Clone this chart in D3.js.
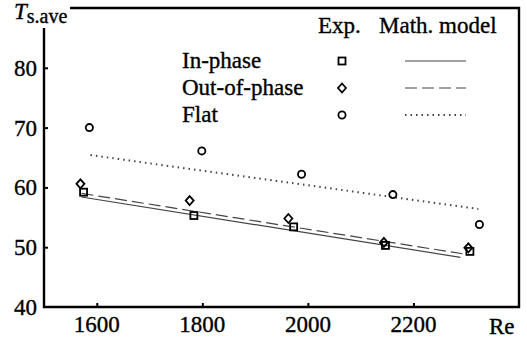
<!DOCTYPE html>
<html>
<head>
<meta charset="utf-8">
<script src="https://cdn.jsdelivr.net/npm/d3@7"></script>
<style>
  body { margin: 0; background: #fff; }
</style>
</head>
<body>
<svg width="527" height="344"></svg>
<script>
// experimental points
let inX = [1575, 1784, 1973, 2147, 2307];
let inY = [59.2, 55.3, 53.4, 50.3, 49.3];
let outX = [1569, 1776, 1963, 2144, 2304];
let outY = [60.6, 57.8, 54.8, 50.8, 49.9];
let flatX = [1586, 1799, 1988, 2161, 2325];
let flatY = [70.0, 66.1, 62.2, 58.8, 53.8];

// math model lines (start, end)
let inModelX = [1571, 2289];
let inModelY = [58.4, 48.3];
let outModelX = [1571, 2293];
let outModelY = [59.0, 48.9];
let flatModelX = [1588, 2323];
let flatModelY = [65.4, 56.4];

let xTicks = [1600, 1800, 2000, 2200];
let yTicks = [40, 50, 60, 70, 80];
let legendNames = ['In-phase', 'Out-of-phase', 'Flat'];

let padL = 44, padR = 519, padT = 8, padB = 307;
let fontFam = '"Liberation Serif", "DejaVu Serif", serif';
let svg = d3.select('svg');

let txt = (x, y, s, size) => svg.append('text')
  .attr('x', x).attr('y', y)
  .style('font-family', fontFam)
  .style('font-size', (size || 23) + 'px')
  .attr('stroke', '#000')
  .attr('stroke-width', 0.35)
  .text(s);

let xSc = d3.scaleLinear().domain([1500, 2400]).range([padL, padR]);
let ySc = d3.scaleLinear().domain([40, 90]).range([padB, padT]);

// frame
svg.append('path')
   .attr('d', `M70,${padT}H${padR}V${padB}H${padL}V28`)
   .attr('fill', 'none')
   .attr('stroke', '#000')
   .attr('stroke-width', 2.4);

// axes (ticks inward)
let xAxis = d3.axisTop(xSc).tickValues(xTicks).tickSize(4).tickFormat('');
svg.append('g').attr('transform', 'translate(0,' + padB + ')').call(xAxis)
   .call(g => g.select('.domain').remove())
   .selectAll('line').attr('stroke-width', 2);
let yAxis = d3.axisRight(ySc).tickValues(yTicks.slice(1)).tickSize(4).tickFormat('');
svg.append('g').attr('transform', 'translate(' + padL + ',0)').call(yAxis)
   .call(g => g.select('.domain').remove())
   .selectAll('line').attr('stroke-width', 2);

xTicks.forEach(d => txt(xSc(d), 332, d).attr('text-anchor', 'middle'));
yTicks.forEach(d => txt(37, ySc(d) + 8, d).attr('text-anchor', 'end'));

// axis titles
let yt = txt(14, 19, '', 23);
yt.append('tspan').attr('font-style', 'italic').text('T');
yt.append('tspan').attr('dy', 4).style('font-size', '20px').text('s.ave');
txt(489, 334, 'Re');

// model lines
let line = d3.line().x(d => xSc(d[0])).y(d => ySc(d[1]));
let models = [
  { x: inModelX, y: inModelY, dash: null },
  { x: outModelX, y: outModelY, dash: '12,5' },
  { x: flatModelX, y: flatModelY, dash: '1.5,4' }
];
models.forEach(m => {
  svg.append('path')
     .attr('d', line(d3.zip(m.x, m.y)))
     .attr('fill', 'none')
     .attr('stroke', '#444')
     .attr('stroke-width', m.dash === '1.5,4' ? 2 : 1.2)
     .attr('stroke-dasharray', m.dash);
});

// markers
let drawSquare = (g, x, y) => g.append('rect').attr('x', x - 3.5).attr('y', y - 3.5)
  .attr('width', 7).attr('height', 7).attr('fill', 'none').attr('stroke', '#000').attr('stroke-width', 1.8);
let drawDiamond = (g, x, y) => g.append('path')
  .attr('d', `M${x},${y - 4.5}L${x + 4},${y}L${x},${y + 4.5}L${x - 4},${y}Z`)
  .attr('fill', 'none').attr('stroke', '#000').attr('stroke-width', 1.8);
let drawCircle = (g, x, y) => g.append('circle').attr('cx', x).attr('cy', y).attr('r', 3.6)
  .attr('fill', 'none').attr('stroke', '#000').attr('stroke-width', 1.8);

d3.zip(outX, outY).forEach(d => drawDiamond(svg, xSc(d[0]), ySc(d[1])));
d3.zip(inX, inY).forEach(d => drawSquare(svg, xSc(d[0]), ySc(d[1])));
d3.zip(flatX, flatY).forEach(d => drawCircle(svg, xSc(d[0]), ySc(d[1])));

// legend
txt(318, 33, 'Exp.');
txt(379, 33, 'Math. model');
let rowsY = [61, 88, 115];
let drawers = [drawSquare, drawDiamond, drawCircle];
legendNames.forEach((n, i) => {
  txt(182, rowsY[i] + 7, n);
  drawers[i](svg, 342, rowsY[i]);
  svg.append('line').attr('x1', 405).attr('x2', 466).attr('y1', rowsY[i]).attr('y2', rowsY[i])
     .attr('stroke', '#444')
     .attr('stroke-width', i === 2 ? 2 : 1.2)
     .attr('stroke-dasharray', models[i].dash);
});
</script>
</body>
</html>
